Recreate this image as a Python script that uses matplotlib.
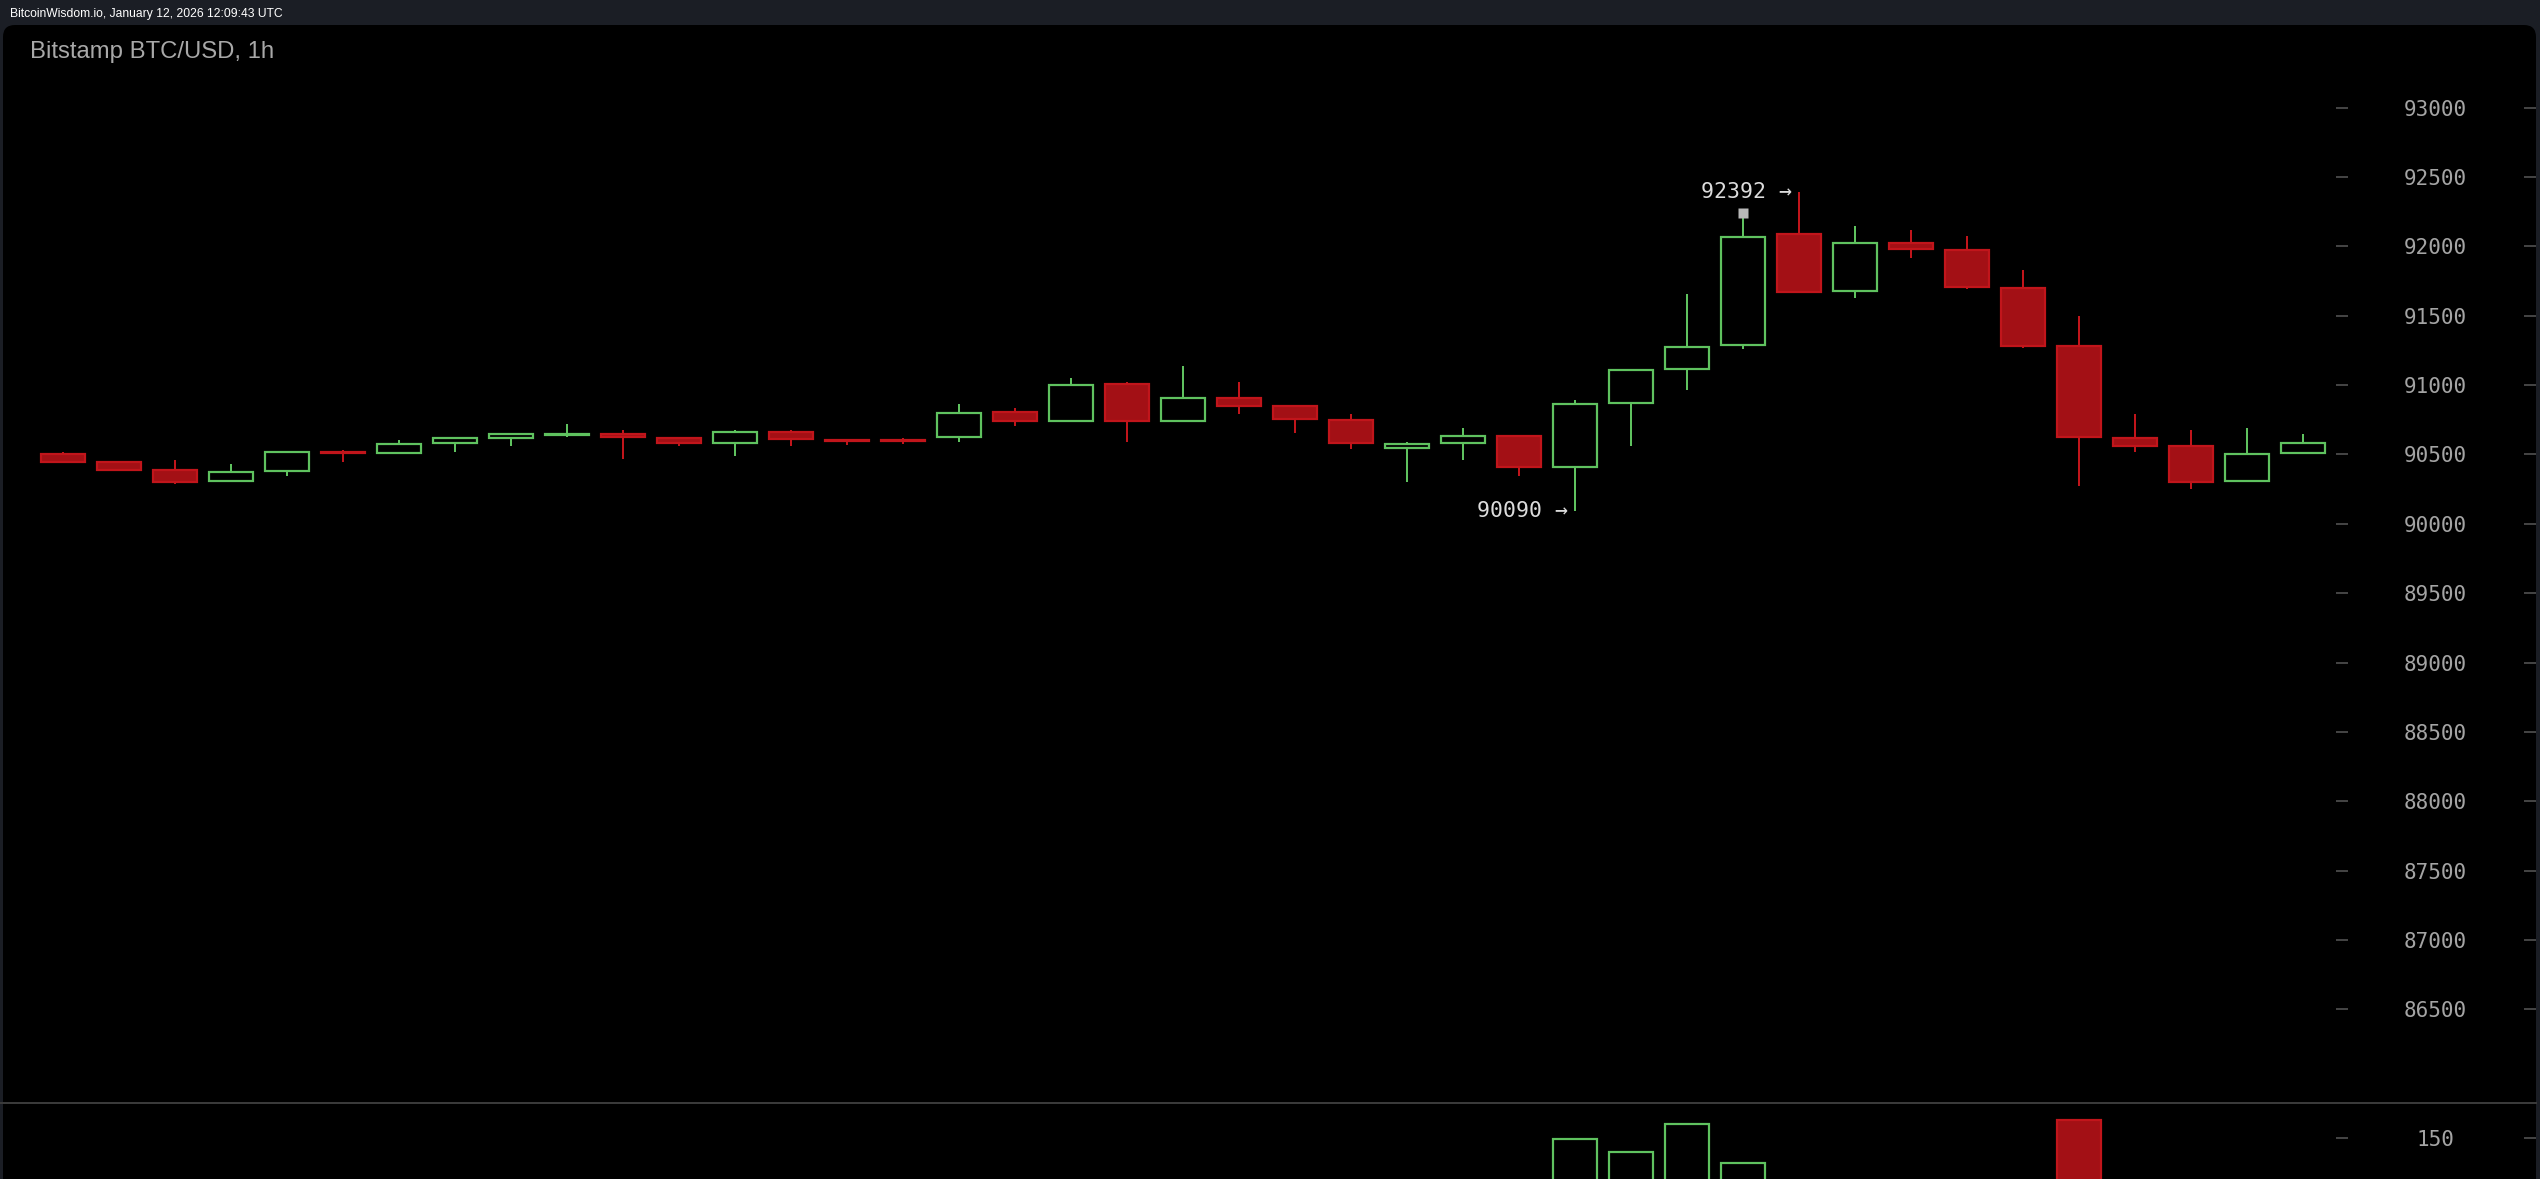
import matplotlib
matplotlib.use("Agg")
import matplotlib.pyplot as plt
from matplotlib.patches import Rectangle, FancyBboxPatch

W, H, DPI = 2540, 1179, 100

# hourly candles
opens = [90500, 90443, 90388, 90306, 90378, 90520, 90508, 90580, 90621, 90640,
         90647, 90616, 90580, 90660, 90604, 90602, 90623, 90804, 90741, 91005,
         90741, 90904, 90847, 90746, 90550, 90580, 90633, 90407, 90868, 91113,
         91286, 92086, 91678, 92026, 91973, 91697, 91281, 90616, 90561, 90306,
         90508]
highs = [90517, 90445, 90460, 90431, 90517, 90532, 90604, 90618, 90648, 90719,
         90676, 90618, 90676, 90676, 90606, 90618, 90863, 90837, 91049, 91020,
         91137, 91024, 90850, 90789, 90587, 90690, 90635, 90892, 91108, 91656,
         92213, 92392, 92146, 92117, 92074, 91829, 91497, 90791, 90676, 90688,
         90645]
lows = [90445, 90388, 90288, 90305, 90347, 90448, 90506, 90520, 90563, 90624,
        90465, 90563, 90491, 90563, 90566, 90575, 90592, 90707, 90739, 90592,
        90739, 90791, 90652, 90539, 90304, 90460, 90347, 90090, 90563, 90967,
        91258, 91670, 91629, 91918, 91690, 91269, 90275, 90520, 90249, 90304,
        90506]
closes = [90448, 90390, 90305, 90371, 90515, 90510, 90573, 90616, 90645, 90645,
          90625, 90580, 90660, 90610, 90600, 90598, 90800, 90740, 91002, 90740,
          90905, 90852, 90753, 90580, 90575, 90630, 90407, 90862, 91106, 91276,
          92069, 91673, 92026, 91980, 91704, 91283, 90623, 90563, 90304, 90501,
          90585]
# only the tallest bars show above the cut; the rest are rough guesses
volumes = [35, 28, 40, 22, 30, 18, 25, 20, 22, 15,
           30, 18, 25, 20, 12, 10, 45, 25, 50, 70,
           60, 30, 35, 45, 40, 30, 75, 149, 136, 164,
           125, 95, 60, 30, 55, 90, 168, 70, 65, 45,
           20]

price_ticks = [86500, 87000, 87500, 88000, 88500, 89000, 89500,
               90000, 90500, 91000, 91500, 92000, 92500, 93000]
volume_ticks = [150]

marker_idx = 30
marker_price = 92240

header = "BitcoinWisdom.io, January 12, 2026 12:09:43 UTC"
title = "Bitstamp BTC/USD, 1h"

GREEN = "#5fc25f"
RED_FILL = "#a31015"
RED_EDGE = "#c1151b"
TICK_C = "#5a5a5a"
LABEL_C = "#a4a4a4"
BODY_W = 0.8
MONO = "DejaVu Sans Mono"

px = 72.0 / DPI  # points per pixel

fig = plt.figure(figsize=(W / DPI, H / DPI), dpi=DPI, facecolor="#1b1e25")

# black rounded panel behind the chart
panel = FancyBboxPatch((0.03, -0.5), 25.33, 12.04,
                       boxstyle="round,pad=0,rounding_size=0.12",
                       transform=fig.dpi_scale_trans,
                       facecolor="black", edgecolor="none", zorder=-1)
fig.add_artist(panel)

fig.text(10 / W, 1 - 14 / H, header, family="Liberation Sans", size=8.7,
         color="white", va="center", ha="left")
fig.text(30 / W, 1 - 52 / H, title, family="Liberation Sans", size=17.2,
         color="#a8a8a8", va="center", ha="left")

xlim = (-1.125, 44.16)
price_box = [0, 76 / H, 2536 / W, 1078 / H]
label_box = [0, 76 / H, 2336 / W, 1078 / H]
vol_box = [0, 0, 2536 / W, 76 / H]
vol_label_box = [0, 0, 2336 / W, 76 / H]


def style_axes(a):
    a.set_facecolor("none")
    for s in a.spines.values():
        s.set_visible(False)
    a.set_xticks([])


# price panel
ax = fig.add_axes(price_box)
style_axes(ax)
ax.set_xlim(*xlim)
ax.set_ylim(85826, 93595)
ax.set_yticks(price_ticks)
ax.tick_params(axis="y", left=False, right=True, labelleft=False,
               labelright=False, direction="in", length=12 * px,
               width=1.5 * px, color=TICK_C)

for i, (o, h, l, c) in enumerate(zip(opens, highs, lows, closes)):
    up = c >= o
    ax.vlines(i, l, h, color=GREEN if up else RED_EDGE, lw=2 * px, zorder=2)
    ax.add_patch(Rectangle((i - BODY_W / 2, min(o, c)), BODY_W, abs(c - o),
                           facecolor="black" if up else RED_FILL,
                           edgecolor=GREEN if up else RED_EDGE,
                           lw=2.2 * px, zorder=3))

ax.plot(marker_idx, marker_price, marker="s", ms=10 * px, color="#b8b8b8",
        mec="none", zorder=4)

hi_idx = highs.index(max(highs))
lo_idx = lows.index(min(lows))
ax.text(hi_idx - 0.12, highs[hi_idx], f"{highs[hi_idx]} \u2192", ha="right",
        va="center", family=MONO, size=15.5, color="#dcdcdc")
ax.text(lo_idx - 0.12, lows[lo_idx], f"{lows[lo_idx]} \u2192", ha="right",
        va="center", family=MONO, size=15.5, color="#dcdcdc")

# left tick dashes + labels for the price scale
axl = fig.add_axes(label_box, sharey=ax)
style_axes(axl)
axl.tick_params(axis="y", left=False, right=True, labelleft=False,
                labelright=True, direction="out", length=12 * px,
                width=1.5 * px, color=TICK_C, pad=87 * px,
                labelsize=15, labelcolor=LABEL_C)
plt.setp(axl.get_yticklabels(), ha="center", family=MONO)

# volume panel
axv = fig.add_axes(vol_box)
style_axes(axv)
axv.spines["top"].set_visible(True)
axv.spines["top"].set_color("#3a3a3a")
axv.spines["top"].set_linewidth(2 * px)
axv.set_xlim(*xlim)
axv.set_ylim(109, 185)
axv.set_yticks(volume_ticks)
axv.tick_params(axis="y", left=False, right=True, labelleft=False,
                labelright=False, direction="in", length=12 * px,
                width=1.5 * px, color=TICK_C)
vol_up = [c >= o for o, c in zip(opens, closes)]
axv.bar(range(len(volumes)), volumes, width=BODY_W,
        color=["black" if u else RED_FILL for u in vol_up],
        edgecolor=[GREEN if u else RED_EDGE for u in vol_up],
        linewidth=2.2 * px, zorder=2)

axvl = fig.add_axes(vol_label_box, sharey=axv)
style_axes(axvl)
axvl.tick_params(axis="y", left=False, right=True, labelleft=False,
                 labelright=True, direction="out", length=12 * px,
                 width=1.5 * px, color=TICK_C, pad=87 * px,
                 labelsize=15, labelcolor=LABEL_C)
plt.setp(axvl.get_yticklabels(), ha="center", family=MONO)

fig.savefig("out.png", dpi=DPI, facecolor=fig.get_facecolor())
